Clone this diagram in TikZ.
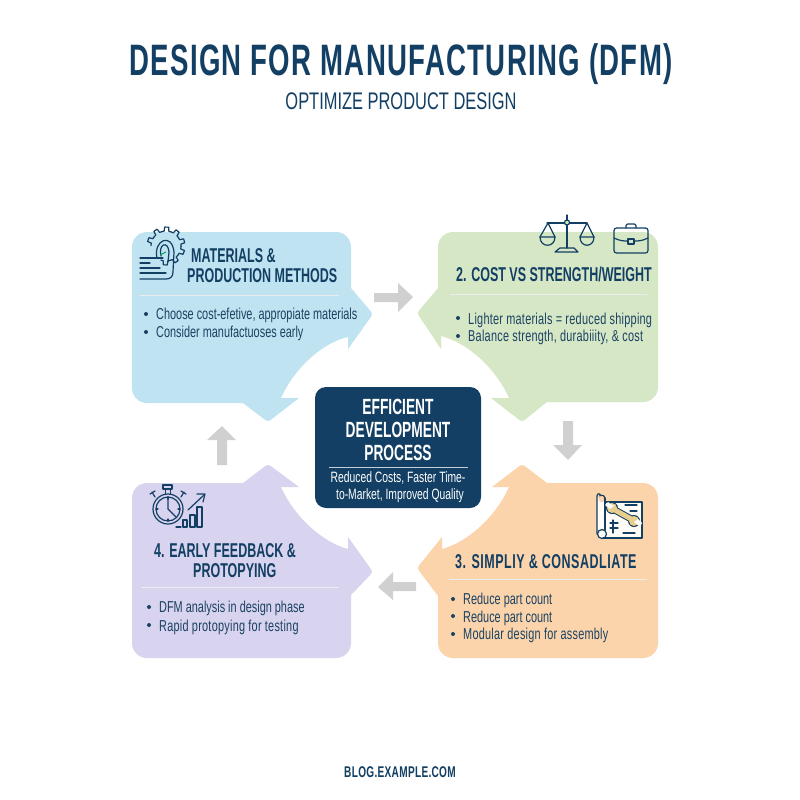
\documentclass[tikz,border=0pt]{standalone}
\usepackage{fontspec}
\setmainfont{Liberation Sans}
\newfontfamily\cnd[FakeStretch=0.685]{Liberation Sans}
\newfontfamily\bdy[FakeStretch=0.69]{Liberation Sans}
\newfontfamily\bdw[FakeStretch=0.69,LetterSpace=1.6]{Liberation Sans}
\newfontfamily\cnb[FakeStretch=0.625]{Liberation Sans}
\newfontfamily\cnw[FakeStretch=0.625,LetterSpace=2.7]{Liberation Sans}
\newfontfamily\ftr[FakeStretch=0.65,LetterSpace=2]{Liberation Sans}
\newfontfamily\ttl[FakeStretch=0.627,LetterSpace=3]{Liberation Sans}
\definecolor{navy}{HTML}{123F63}
\definecolor{ink}{HTML}{1B4263}
\definecolor{cblue}{HTML}{BFE3F0}
\definecolor{cgreen}{HTML}{D6E7C6}
\definecolor{corange}{HTML}{FBD4AC}
\definecolor{cpurple}{HTML}{D8D3EE}
\definecolor{gry}{HTML}{D0D0D0}
\definecolor{wrn}{HTML}{E9CF8E}
\tikzset{
  x=1pt,y=-1pt,
  title/.style={anchor=base,inner sep=0,text=navy,font=\ttl\fontsize{44}{44}\selectfont\bfseries},
  subtitle/.style={anchor=base,inner sep=0,text=navy,font=\cnd\fontsize{24}{24}\selectfont},
  head/.style={anchor=base west,inner sep=0,text=navy,font=\cnb\fontsize{20}{20}\selectfont\bfseries},
  headwide/.style={anchor=base west,inner sep=0,text=navy,font=\cnw\fontsize{20}{20}\selectfont\bfseries},
  body/.style={anchor=base west,inner sep=0,text=ink,font=\bdy\fontsize{15.8}{15.8}\selectfont},
  bodywide/.style={anchor=base west,inner sep=0,text=ink,font=\bdw\fontsize{15.8}{15.8}\selectfont},
  chead/.style={anchor=base,inner sep=0,text=white,font=\cnb\fontsize{22}{22}\selectfont\bfseries},
  cbody/.style={anchor=base,inner sep=0,text=white,font=\bdy\fontsize{15}{15}\selectfont},
  foot/.style={anchor=base,inner sep=0,text=navy,font=\ftr\fontsize{15.5}{15.5}\selectfont\bfseries},
  divider/.style={white!85!gray,line width=1pt},
  dot/.style={circle,fill=ink,inner sep=0,minimum size=4pt},
  icon/.style={draw=navy,line width=1.2pt,line cap=round,line join=round},
  flow/.style={fill=gry,draw=none},
}
\begin{document}
\begin{tikzpicture}
\useasboundingbox (0,0) rectangle (800,800);
\fill[white] (0,0) rectangle (800,800);

% cards
\fill[cblue] (132,300) [rounded corners=15] -- (132,232) -- (351,232) [sharp corners] -- (351,288) [rounded corners=3] -- (373,314) [sharp corners] -- (348,349) -- (348,337)
  .. controls (325,342) and (296,365) .. (281,398) -- (299,398) [rounded corners=3] -- (268,422) [sharp corners] -- (243,403) [rounded corners=15] -- (132,403) [sharp corners] -- cycle;
\fill[cgreen] (658,300) [rounded corners=15] -- (658,232) -- (438,232) [sharp corners] -- (438,288) [rounded corners=3] -- (417,313) [sharp corners] -- (441,349) -- (441,336)
  .. controls (465,342) and (494,365) .. (509,398) -- (491,398) [rounded corners=3] -- (522,422) [sharp corners] -- (547,402) [rounded corners=15] -- (658,402) [sharp corners] -- cycle;
\fill[corange] (658,570) [rounded corners=15] -- (658,658) -- (438,658) [sharp corners] -- (438,596) [rounded corners=3] -- (417,568) [sharp corners] -- (442,537) -- (442,549)
  .. controls (465,543) and (494,520) .. (509,487) -- (492,487) [rounded corners=3] -- (522,464) [sharp corners] -- (547,483) [rounded corners=15] -- (658,483) [sharp corners] -- cycle;
\fill[cpurple] (132,570) [rounded corners=15] -- (132,658) -- (351,658) [sharp corners] -- (351,595) [rounded corners=3] -- (373,572) [sharp corners] -- (348,537) -- (348,549)
  .. controls (325,543) and (296,520) .. (281,487) -- (299,487) [rounded corners=3] -- (268,464) [sharp corners] -- (243,483) [rounded corners=15] -- (132,483) [sharp corners] -- cycle;

% flow arrows
\fill[flow] (374,293) -- (398,293) -- (398,283) -- (413,297) -- (398,312) -- (398,302) -- (374,302) -- cycle;
\fill[flow] (563,421) -- (563,445) -- (553,445) -- (568,460) -- (582,445) -- (573,445) -- (573,421) -- cycle;
\fill[flow] (416,582) -- (393,582) -- (393,572) -- (378,587) -- (393,600) -- (393,591) -- (416,591) -- cycle;
\fill[flow] (217,465) -- (217,440) -- (207,440) -- (222,426) -- (236,440) -- (227,440) -- (227,465) -- cycle;

% centre
\fill[navy,rounded corners=11] (315,387) rectangle (481,508);
\draw[white!75!navy,line width=1pt] (329,467) -- (468,467);

% titles
\node[title] (t1) at (401,75) {DESIGN FOR MANUFACTURING (DFM)};
\node[subtitle] (t2) at (401,109) {OPTIMIZE PRODUCT DESIGN};
\node[foot] (f1) at (400,777) {BLOG.EXAMPLE.COM};

% centre text
\node[chead] (c1) at (398,414) {EFFICIENT};
\node[chead] (c2) at (398,437) {DEVELOPMENT};
\node[chead] (c3) at (398,460) {PROCESS};
\node[cbody] (c4) at (398,482) {Reduced Costs, Faster Time-};
\node[cbody] (c5) at (400,499) {to-Market, Improved Quality};

% blue card text
\node[head] (a1) at (191,262) {MATERIALS \&};
\node[head] (a2) at (187,282) {PRODUCTION METHODS};
\draw[divider] (140,295) -- (339,295);
\node[dot] (ad1) at (146,314) {};
\node[body] (ab1) at (156,319) {Choose cost-efetive, appropiate materials};
\node[dot] (ad2) at (146,332) {};
\node[body] (ab2) at (156,337) {Consider manufactuoses early};

% green card text
\node[head] (b1) at (456,281) {2. COST VS STRENGTH/WEIGHT};
\draw[divider] (450,294) -- (647,294);
\node[dot] (bd1) at (458,318) {};
\node[bodywide] (bb1) at (468,324) {Lighter materials = reduced shipping};
\node[dot] (bd2) at (458,336) {};
\node[bodywide] (bb2) at (468,341) {Balance strength, durabiiity, \& cost};

% orange card text
\node[headwide] (d1) at (455,568) {3. SIMPLIY \& CONSADLIATE};
\draw[divider] (449,579) -- (647,579);
\node[dot] (dd1) at (453,599) {};
\node[body] (db1) at (463,604) {Reduce part count};
\node[dot] (dd2) at (453,616) {};
\node[body] (db2) at (463,622) {Reduce part count};
\node[dot] (dd3) at (453,634) {};
\node[bodywide] (db3) at (463,639) {Modular design for assembly};

% purple card text
\node[head] (e1) at (154,557) {4. EARLY FEEDBACK \&};
\node[head] (e2) at (193,577) {PROTOPYING};
\draw[divider] (141,587) -- (339,587);
\node[dot] (ed1) at (149,607) {};
\node[body] (eb1) at (159,612) {DFM analysis in design phase};
\node[dot] (ed2) at (149,625) {};
\node[bodywide] (eb2) at (159,631) {Rapid protopying for testing};

% gear and document icon
\begin{scope}[icon]
  \begin{scope}[shift={(166,246)}]
    \foreach \a in {-160,-124,...,120}{
      \draw (\a-18:15) -- (\a-9:15) -- (\a-6:19) -- (\a+6:19) -- (\a+9:15) -- (\a+18:15);
    }
  \end{scope}
  \draw (157,258) .. controls (153,240) and (172,232) .. (174,252) -- (173,272) .. controls (173,277) and (170,279) .. (166,279) -- (140,279);
  \draw (161,256) .. controls (158,244) and (168,240) .. (169,252) -- (168,262);
  \draw (140,258) -- (163,258);
  \draw (140,263) -- (150,263);
  \draw (140,268) -- (160,268);
  \draw (140,273) -- (166,273);
\end{scope}
\draw[teal!70!green,line width=1.1pt] (160,255) -- (166,252);

% scales and briefcase
\begin{scope}[icon]
  \draw (567,215) -- (567,248);
  \draw (547,223) -- (587,223);
  \draw[fill=cgreen] (567,222.5) circle[radius=2.5];
  \draw (548,223) -- (540,237) (548,223) -- (555,237);
  \draw (540,237) -- (555,237) .. controls (555,248) and (540,248) .. (540,237);
  \draw (587,223) -- (580,237) (587,223) -- (594,237);
  \draw (580,237) -- (594,237) .. controls (594,248) and (580,248) .. (580,237);
  \draw (555,252) -- (578,252) -- (574,248) -- (560,248) -- cycle;
  \draw[rounded corners=2.5] (614,228) rectangle (648,253);
  \draw[rounded corners=1.5] (626,228) -- (626,224) -- (636,224) -- (636,228);
  \draw (614,238) .. controls (620,241) and (624,241) .. (628,241);
  \draw (634,241) .. controls (638,241) and (642,241) .. (648,238);
  \draw (628,239) rectangle (634,244);
\end{scope}

% blueprint and wrench
\begin{scope}[icon]
  \fill[white!92!corange] (600,502) -- (642,502) -- (642,538) -- (600,538) -- (597,532) -- (597,496) -- cycle;
  \draw (605,502) -- (642,502) -- (642,538) -- (603,538);
  \draw (597,534) -- (597,496) .. controls (597,493) and (601,493) .. (600,496);
  \draw (605,498) -- (605,530);
  \draw (600,495) .. controls (603,495) and (605,496) .. (605,498);
  \draw (602,534) circle[radius=4.5];
  \draw (625,505) -- (637,505) (630,511) -- (637,511);
  \draw (613,520) -- (613,533) (610,523) -- (618,523) (610,528) -- (618,528);
  \draw (623,533) -- (635,533);
  \fill[navy] (612,508) circle[radius=6];
  \fill[navy] (634,521) circle[radius=6];
  \draw[line width=7pt,line cap=butt] (613,509) -- (633,520);
  \fill[wrn] (612,508) circle[radius=5];
  \fill[wrn] (634,521) circle[radius=5];
  \draw[wrn,line width=5pt,line cap=butt] (613,509) -- (633,520);
  \fill[white!92!corange] (608,502) -- (614,506) -- (610,509) -- (605,505) -- cycle;
  \fill[white!92!corange] (640,527) -- (634,522) -- (638,519) -- (642,523) -- cycle;
\end{scope}

% stopwatch and chart
\begin{scope}[icon]
  \draw (168,509) circle[radius=15];
  \draw (168,509) circle[radius=12];
  \draw (163,485) rectangle (172,489);
  \draw (165.5,489) -- (165.5,494) (170.5,489) -- (170.5,494);
  \draw (155,497) -- (152,492) (150,494) -- (155,491);
  \draw (181,497) -- (184,492) (181,491) -- (186,494);
  \draw[line width=1.4pt] (168,497) -- (168,509) -- (176,517);
  \draw (168,497) -- (168,499) (180,509) -- (178,509) (168,521) -- (168,519) (156,509) -- (158,509);
  \draw (188,510) -- (204,495);
  \draw (197,494) -- (205,494) -- (203,502);
  \draw (176,527) -- (181,527);
  \draw (183,527) -- (183,520) -- (187,520) -- (187,527) -- cycle;
  \draw (190,527) -- (190,515) -- (195,515) -- (195,527) -- cycle;
  \draw (197,527) -- (197,507) -- (202,507) -- (202,527) -- cycle;
\end{scope}
\end{tikzpicture}
\end{document}
